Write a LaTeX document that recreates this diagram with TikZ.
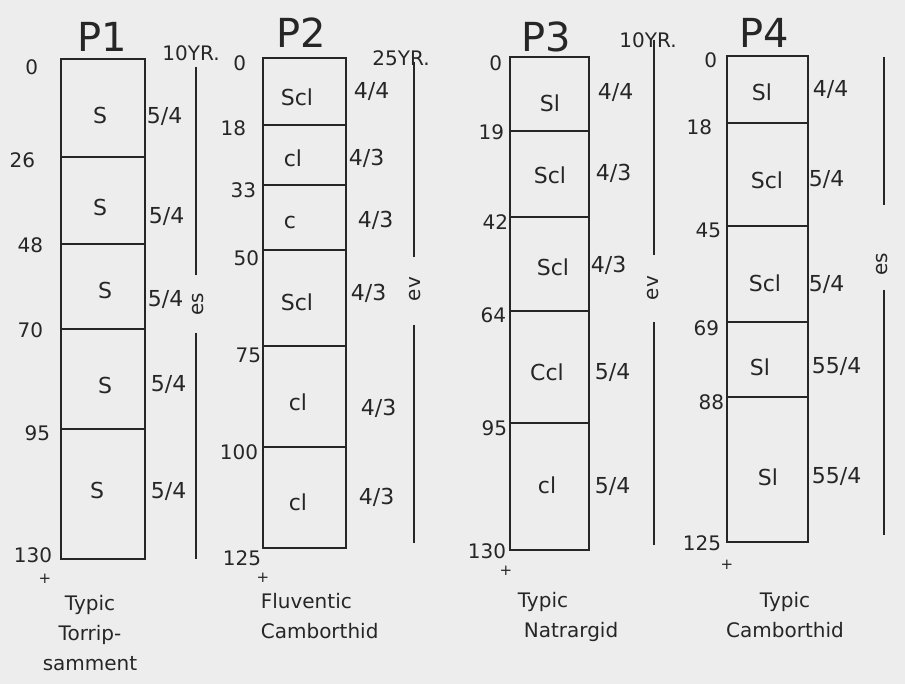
\documentclass[tikz,border=0pt]{standalone}
\usepackage{fontspec}
\setmainfont{DejaVu Sans}

\begin{document}
\begin{tikzpicture}[x=1pt,y=-1pt,line width=1.7pt,color=black!85,inner sep=0pt,
  font=\fontsize{20}{28}\selectfont,
  dep/.style={anchor=east},
  hue/.style={anchor=west,font=\fontsize{22}{28}\selectfont},
  tex/.style={font=\fontsize{22}{28}\selectfont},
  ttl/.style={font=\fontsize{40}{44}\selectfont},
  soilname/.style={font=\fontsize{20}{30}\selectfont},
  plus/.style={font=\fontsize{15}{18}\selectfont}]
\fill[black!7] (0,0) rectangle (905,684);
\useasboundingbox (0,0) rectangle (905,684);

% P1
\draw (61,59) rectangle (145,559);
\draw (61,157)--(145,157) (61,244)--(145,244) (61,329)--(145,329) (61,429)--(145,429);
\node[ttl] (p1) at (102,37) {P1};\node (p1yr) at (191,53) {10YR.};
\node[dep] (p1a) at (39,67) {0};\node[dep] (p1b) at (36,160) {26};\node[dep] (p1c) at (44,245) {48};
\node[dep] (p1d) at (44,330) {70};\node[dep] (p1e) at (51,433) {95};\node[dep] (p1f) at (53,555) {130};
\node[tex] (p1t1) at (100,115) {S};\node[tex] (p1t2) at (100,207) {S};\node[tex] (p1t3) at (105,290) {S};
\node[tex] (p1t4) at (105,385) {S};\node[tex] (p1t5) at (97,490) {S};
\node[hue] (p1h1) at (146,117) {5/4};\node[hue] (p1h2) at (148,217) {5/4};\node[hue] (p1h3) at (147,300) {5/4};
\node[hue] (p1h4) at (150,385) {5/4};\node[hue] (p1h5) at (150,492) {5/4};
\draw (196,67)--(196,275) (196,333)--(196,559);
\node[rotate=90] (p1es) at (198,304) {es};
\node[plus] (p1pl) at (45,579) {+};
\node[soilname,align=center] (p1n) at (90,633) {Typic\\Torrip-\\samment};

% P2
\draw (263,58) rectangle (346,548);
\draw (263,125)--(346,125) (263,185)--(346,185) (263,250)--(346,250) (263,346)--(346,346) (263,447)--(346,447);
\node[ttl] (p2) at (301,33) {P2};\node (p2yr) at (401,58) {25YR.};
\node[dep] (p2a) at (247,63) {0};\node[dep] (p2b) at (247,128) {18};\node[dep] (p2c) at (257,190) {33};
\node[dep] (p2d) at (260,258) {50};\node[dep] (p2e) at (262,355) {75};\node[dep] (p2f) at (259,452) {100};
\node[dep] (p2g) at (262,558) {125};
\node[tex] (p2t1) at (297,97) {Scl};\node[tex] (p2t2) at (293,158) {cl};\node[tex] (p2t3) at (290,222) {c};
\node[tex] (p2t4) at (297,302) {Scl};\node[tex] (p2t5) at (298,402) {cl};\node[tex] (p2t6) at (298,502) {cl};
\node[hue] (p2h1) at (353,92) {4/4};\node[hue] (p2h2) at (348,158) {4/3};\node[hue] (p2h3) at (357,220) {4/3};
\node[hue] (p2h4) at (350,293) {4/3};\node[hue] (p2h5) at (360,408) {4/3};\node[hue] (p2h6) at (358,497) {4/3};
\draw (414,62)--(414,257) (414,325)--(414,543);
\node[rotate=90] (p2ev) at (415,289) {ev};
\node[plus] (p2pl) at (263,578) {+};
\node[soilname,align=left,anchor=west] (p2n) at (260,616) {Fluventic\\Camborthid};

% P3
\draw (510,57) rectangle (589,550);
\draw (510,131)--(589,131) (510,217)--(589,217) (510,311)--(589,311) (510,423)--(589,423);
\node[ttl] (p3) at (546,37) {P3};\node (p3yr) at (648,40) {10YR.};
\node[dep] (p3a) at (503,63) {0};\node[dep] (p3b) at (505,132) {19};\node[dep] (p3c) at (509,222) {42};
\node[dep] (p3d) at (507,315) {64};\node[dep] (p3e) at (508,428) {95};\node[dep] (p3f) at (507,551) {130};
\node[tex] (p3t1) at (550,103) {Sl};\node[tex] (p3t2) at (550,175) {Scl};\node[tex] (p3t3) at (553,267) {Scl};
\node[tex] (p3t4) at (547,372) {Ccl};\node[tex] (p3t5) at (547,485) {cl};
\node[hue] (p3h1) at (597,93) {4/4};\node[hue] (p3h2) at (595,173) {4/3};\node[hue] (p3h3) at (590,265) {4/3};
\node[hue] (p3h4) at (594,373) {5/4};\node[hue] (p3h5) at (594,487) {5/4};
\draw (654,40)--(654,255) (654,322)--(654,545);
\node[rotate=90] (p3ev) at (653,288) {ev};
\node[plus] (p3pl) at (506,571) {+};
\node[soilname,align=left,anchor=west] (p3n) at (517,617) {Typic\\\hspace{6pt}Natrargid};

% P4
\draw (727,56) rectangle (808,542);
\draw (727,123)--(808,123) (727,226)--(808,226) (727,322)--(808,322) (727,397)--(808,397);
\node[ttl] (p4) at (764,33) {P4};
\node[dep] (p4a) at (718,60) {0};\node[dep] (p4b) at (713,127) {18};\node[dep] (p4c) at (722,230) {45};
\node[dep] (p4d) at (720,328) {69};\node[dep] (p4e) at (725,402) {88};\node[dep] (p4f) at (722,543) {125};
\node[tex] (p4t1) at (762,92) {Sl};\node[tex] (p4t2) at (767,180) {Scl};\node[tex] (p4t3) at (765,283) {Scl};
\node[tex] (p4t4) at (760,367) {Sl};\node[tex] (p4t5) at (768,477) {Sl};
\node[hue] (p4h1) at (812,90) {4/4};\node[hue] (p4h2) at (808,180) {5/4};\node[hue] (p4h3) at (808,285) {5/4};
\node[hue] (p4h4) at (811,367) {55/4};\node[hue] (p4h5) at (811,477) {55/4};
\draw (884,57)--(884,205) (884,290)--(884,535);
\node[rotate=90] (p4es) at (882,264) {es};
\node[plus] (p4pl) at (727,565) {+};
\node[soilname,align=center] (p4n) at (785,615) {Typic\\Camborthid};
\end{tikzpicture}
\end{document}
